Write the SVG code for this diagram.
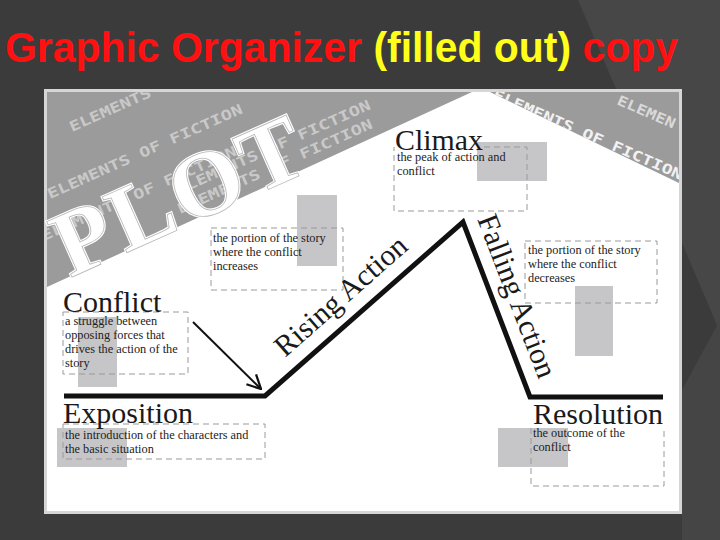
<svg xmlns="http://www.w3.org/2000/svg" width="720" height="540" viewBox="0 0 720 540">
  <style>
    .title { font-family: "Liberation Sans Narrow", "Liberation Sans", Arial, sans-serif; font-weight: bold; font-size: 43px; }
    .head { font-family: "Liberation Serif", "Times New Roman", serif; font-size: 30px; fill: #1a1a1a; }
    .desc { font-family: "Liberation Serif", "Times New Roman", serif; font-size: 12.3px; fill: #222; }
    .deco { font-family: "DejaVu Sans Mono", "Liberation Mono", monospace; font-weight: bold; font-size: 14px; }
    .box { fill: none; stroke: #9a9a9a; stroke-width: 1; stroke-dasharray: 6 4; }
    .ph { fill: #c6c6c8; }
    .plot { font-family: "Liberation Serif", "Times New Roman", serif; font-size: 93px; font-weight: bold; }
  </style>
  <defs>
    <clipPath id="bands">
      <polygon points="47,92 472,92 47,287"/>
      <polygon points="490,92 679,92 679,183"/>
    </clipPath>
    <marker id="openArrow" markerUnits="userSpaceOnUse" markerWidth="16" markerHeight="16" viewBox="0 0 14 14" refX="13" refY="7" orient="auto">
      <path d="M1,1 L13,7 L1,13" fill="none" stroke="#111" stroke-width="2"/>
    </marker>
  </defs>

  <!-- slide background -->
  <rect x="0" y="0" width="720" height="540" fill="#3b3b3b"/>
  <polygon points="578,0 720,0 720,332" fill="#474747"/>
  <polygon points="682,390 720,320 720,540 682,540" fill="#454545"/>

  <!-- title -->
  <text class="title" x="5" y="62" textLength="673" lengthAdjust="spacingAndGlyphs"><tspan fill="#ff1111">Graphic Organizer </tspan><tspan fill="#ffff1a">(filled out)</tspan><tspan fill="#ff1111"> copy</tspan></text>

  <!-- picture frame -->
  <rect x="45.5" y="90.5" width="635" height="422" fill="#ffffff" stroke="#d6d6d6" stroke-width="3"/>

  <!-- decorative gray bands -->
  <g id="banner">
    <polygon points="47,92 472,92 47,287" fill="#9b9b9b"/>
    <polygon points="490,92 679,92 679,183" fill="#9b9b9b"/>
    <g clip-path="url(#bands)">
      <text class="deco" fill="#c9c9c9" transform="translate(72,132) rotate(-24)" textLength="88" lengthAdjust="spacingAndGlyphs">ELEMENTS</text>
      <text class="deco" fill="#c9c9c9" transform="translate(50,199) rotate(-24)" textLength="212" lengthAdjust="spacingAndGlyphs">ELEMENTS OF FICTION</text>
      <text class="deco" fill="#c9c9c9" transform="translate(178,195) rotate(-24)" textLength="212" lengthAdjust="spacingAndGlyphs">ELEMENTS OF FICTION</text>
      <text class="deco" fill="#c9c9c9" transform="translate(44,241) rotate(-24)" textLength="212" lengthAdjust="spacingAndGlyphs">ELEMENTS OF FICTION</text>
      <text class="deco" fill="#c9c9c9" transform="translate(180,214) rotate(-24)" textLength="212" lengthAdjust="spacingAndGlyphs">ELEMENTS OF FICTION</text>
      <text class="deco" fill="#f2f2f2" transform="translate(492,98) rotate(23.5)" textLength="205" lengthAdjust="spacingAndGlyphs">ELEMENTS OF FICTION</text>
    </g>
    <text class="deco" fill="#d9d9d9" transform="translate(616,104) rotate(23.5)" textLength="62" lengthAdjust="spacingAndGlyphs">ELEMEN</text>
    <g transform="translate(70,278) rotate(-24)">
      <text class="plot" x="0" y="0" fill="#ffffff" stroke="#ffffff" stroke-width="3" letter-spacing="4">PLOT</text>
      <text class="plot" x="0" y="0" fill="#ffffff" stroke="#b8b8b8" stroke-width="0.8" letter-spacing="4">PLOT</text>
    </g>
  </g>

  <!-- connectors: plot line and arrow -->
  <g id="connectors">
    <polyline points="64,396 265,396 463,222 530,397 663,397" fill="none" stroke="#111" stroke-width="5" stroke-linejoin="miter"/>
    <line x1="193" y1="322" x2="261" y2="389" stroke="#111" stroke-width="2" marker-end="url(#openArrow)"/>
  </g>

  <!-- Climax -->
  <g id="climax">
    <rect class="ph" x="477" y="142" width="70" height="39"/>
    <path class="box" d="M484,147 H527 V211 H394 V147"/>
    <text class="head" x="395" y="150" textLength="88" lengthAdjust="spacingAndGlyphs">Climax</text>
    <text class="desc" x="397" y="161">the peak of action and</text>
    <text class="desc" x="397" y="175">conflict</text>
  </g>

  <!-- Rising action -->
  <g id="rising-action">
    <rect class="ph" x="297" y="195" width="40" height="71"/>
    <rect class="box" x="211" y="228" width="132" height="62"/>
    <text class="desc" x="213" y="242">the portion of the story</text>
    <text class="desc" x="213" y="256">where the conflict</text>
    <text class="desc" x="213" y="270">increases</text>
    <text class="head" transform="translate(285,358) rotate(-41.3)" font-size="32">Rising Action</text>
  </g>

  <!-- Falling action -->
  <g id="falling-action">
    <rect class="ph" x="575" y="286" width="38" height="70"/>
    <rect class="box" x="525" y="241" width="132" height="62"/>
    <text class="desc" x="528" y="254">the portion of the story</text>
    <text class="desc" x="528" y="268">where the conflict</text>
    <text class="desc" x="528" y="282">decreases</text>
    <text class="head" transform="translate(477,219) rotate(69)">Falling Action</text>
  </g>

  <!-- Conflict -->
  <g id="conflict">
    <rect class="ph" x="78" y="317" width="39" height="70"/>
    <rect class="box" x="63" y="312" width="125" height="62"/>
    <text class="head" x="63" y="312">Conflict</text>
    <text class="desc" x="65" y="325">a struggle between</text>
    <text class="desc" x="65" y="339">opposing forces that</text>
    <text class="desc" x="65" y="353">drives the action of the</text>
    <text class="desc" x="65" y="367">story</text>
  </g>

  <!-- Exposition -->
  <g id="exposition">
    <rect class="ph" x="57" y="428" width="70" height="39"/>
    <rect class="box" x="63" y="424" width="202" height="35"/>
    <text class="head" x="63" y="423">Exposition</text>
    <text class="desc" x="65" y="439">the introduction of the characters and</text>
    <text class="desc" x="65" y="453">the basic situation</text>
  </g>

  <!-- Resolution -->
  <g id="resolution">
    <rect class="ph" x="498" y="428" width="70" height="39"/>
    <path class="box" d="M531,428 V486 H664 V428"/>
    <text class="head" x="533" y="424">Resolution</text>
    <text class="desc" x="533" y="437">the outcome of the</text>
    <text class="desc" x="533" y="451">conflict</text>
  </g>
</svg>
